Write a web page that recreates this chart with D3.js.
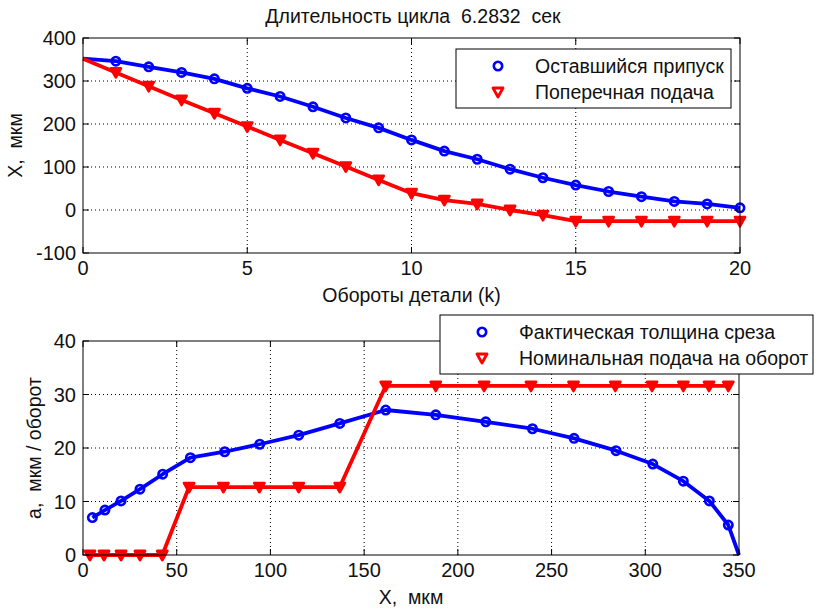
<!DOCTYPE html>
<meta charset="utf-8">
<script src="https://cdn.jsdelivr.net/npm/d3@7"></script>
<style>
body { margin: 0; background: #fff; }
text { font-family: "Liberation Sans", Arial, sans-serif; font-size: 19.5px; fill: #111; white-space: pre; }
text.ticklabel { font-size: 20px; }
.grid line { stroke: #000; stroke-width: 1; stroke-dasharray: 1,3; }
.frame { fill: none; stroke: #000; stroke-width: 1; }
.tick { stroke: #000; stroke-width: 1; }
</style>
<body>
<script>

// top plot: remaining allowance and cross feed vs revolutions
var revs = [0,1,2,3,4,5,6,7,8,9,10,11,12,13,14,15,16,17,18,19,20];
var allowance = [352,346,333,320,305,283,264,240,214,191,163,137,118,95,75,58,43,31,20,14,5];
var crossFeed = [352,320,288,256,225,194,163,132,101,70,39,23,14,0,-12,-26,-26,-26,-26,-26,-26];
var topXTicks = [0,5,10,15,20];
var topYTicks = [-100,0,100,200,300,400];

// bottom plot: chip thickness and nominal feed per revolution vs X
var chipX = [5,11.7,20.3,30.4,42.5,57.3,75.6,94.3,115.1,137,161.5,188.2,214.9,239.8,262,284.4,304,320.3,334.2,344.3,350];
var chipThickness = [7.0,8.4,10.1,12.3,15.1,18.2,19.3,20.7,22.4,24.6,27.1,26.2,24.9,23.6,21.8,19.5,17.0,13.8,10.1,5.6,0];
var feedX = [3.7,11.2,20.3,30.4,42.3,56.6,74.9,94.1,115.1,137,161.5,188.2,214,239,261.7,284,303.6,320.3,334,344.3];
var feedPerRev = [0,0,0,0,0,12.7,12.7,12.7,12.7,12.7,31.6,31.6,31.6,31.6,31.6,31.6,31.6,31.6,31.6,31.6];
var botXTicks = [0,50,100,150,200,250,300,350];
var botYTicks = [0,10,20,30,40];

var width = 818, height = 613;

var svg = d3.select("body").append("svg")
    .attr("width", width)
    .attr("height", height);

svg.append("rect").attr("width", width).attr("height", height).attr("fill", "#fff");

var tri = "M-5,-4L5,-4L0,5Z";

function marker(sel, s, filled) {
  if (s.marker == "o") {
    return sel.append("circle").attr("r", 4.2)
        .attr("fill", "none").attr("stroke", s.color).attr("stroke-width", 2.6);
  }
  return sel.append("path").attr("d", tri)
      .attr("fill", filled ? s.color : "none").attr("stroke", s.color).attr("stroke-width", 2.8)
      .attr("stroke-linejoin", "round");
}

function panel(cfg) {
  var x = cfg.x, y = cfg.y;
  var x0 = x.range()[0], x1 = x.range()[1], y0 = y.range()[0], y1 = y.range()[1];
  var g = svg.append("g");

  // dotted grid
  var grid = g.append("g").attr("class", "grid");
  grid.selectAll(".gx").data(cfg.xTicks.slice(1, -1)).enter().append("line")
      .attr("x1", function(d) { return x(d); }).attr("x2", function(d) { return x(d); })
      .attr("y1", y0).attr("y2", y1);
  grid.selectAll(".gy").data(cfg.yTicks.slice(1, -1)).enter().append("line")
      .attr("y1", function(d) { return y(d); }).attr("y2", function(d) { return y(d); })
      .attr("x1", x0).attr("x2", x1);

  // series
  cfg.series.forEach(function(s) {
    var pts = s.xs.map(function(v, i) { return [v, s.ys[i]]; });
    g.append("path")
        .attr("d", d3.line().x(function(d) { return x(d[0]); }).y(function(d) { return y(d[1]); })(pts))
        .attr("fill", "none").attr("stroke", s.color).attr("stroke-width", 3.8)
        .attr("stroke-linejoin", "round");
    var mpts = pts.filter(function(d, i) { return s.skip.indexOf(i) < 0; });
    var m = g.selectAll(null).data(mpts).enter().append("g")
        .attr("transform", function(d) { return "translate(" + x(d[0]) + "," + y(d[1]) + ")"; });
    marker(m, s, true);
  });

  // frame and inward ticks on all sides
  g.append("rect").attr("class", "frame")
      .attr("x", x0).attr("y", y1).attr("width", x1 - x0).attr("height", y0 - y1);
  var tl = 6;
  cfg.xTicks.forEach(function(d) {
    g.append("line").attr("class", "tick").attr("x1", x(d)).attr("x2", x(d)).attr("y1", y0).attr("y2", y0 - tl);
    g.append("line").attr("class", "tick").attr("x1", x(d)).attr("x2", x(d)).attr("y1", y1).attr("y2", y1 + tl);
    g.append("text").attr("class", "ticklabel").attr("x", x(d)).attr("y", y0 + 22).attr("text-anchor", "middle").text(d);
  });
  cfg.yTicks.forEach(function(d) {
    g.append("line").attr("class", "tick").attr("y1", y(d)).attr("y2", y(d)).attr("x1", x0).attr("x2", x0 + tl);
    g.append("line").attr("class", "tick").attr("y1", y(d)).attr("y2", y(d)).attr("x1", x1).attr("x2", x1 - tl);
    g.append("text").attr("class", "ticklabel").attr("x", x0 - 7).attr("y", y(d)).attr("dy", "0.36em").attr("text-anchor", "end").text(d);
  });

  g.append("text").attr("x", (x0 + x1) / 2).attr("y", cfg.xLabelY).attr("text-anchor", "middle").text(cfg.xLabel);
  g.append("text").attr("transform", "translate(" + cfg.yLabelX + "," + ((y0 + y1) / 2) + ") rotate(-90)")
      .attr("text-anchor", "middle").text(cfg.yLabel);

  // legend
  var L = cfg.legend;
  var lg = svg.append("g");
  lg.append("rect").attr("x", L.x).attr("y", L.y).attr("width", L.w).attr("height", L.h)
      .attr("fill", "#fff").attr("stroke", "#000").attr("stroke-width", 1);
  cfg.series.forEach(function(s, i) {
    var cy = L.y + 17 + i * 26;
    marker(lg.append("g").attr("transform", "translate(" + (L.x + 42) + "," + cy + ")"), s, false);
    lg.append("text").attr("x", L.x + L.tx).attr("y", cy).attr("dy", "0.36em").text(s.name);
  });
}

svg.append("text").attr("x", 413).attr("y", 23).attr("text-anchor", "middle")
    .text("Длительность цикла  6.2832  сек");

panel({
  x: d3.scaleLinear().domain([0, 20]).range([83, 740]),
  y: d3.scaleLinear().domain([-100, 400]).range([253, 38]),
  xTicks: topXTicks, yTicks: topYTicks,
  xLabel: "Обороты детали (k)", xLabelY: 302,
  yLabel: "X,  мкм", yLabelX: 22,
  series: [
    {name: "Оставшийся припуск", xs: revs, ys: allowance, color: "#0000ff", marker: "o", skip: [0]},
    {name: "Поперечная подача", xs: revs, ys: crossFeed, color: "#ff0000", marker: "v", skip: [0]}
  ],
  legend: {x: 456, y: 49, w: 275, h: 59, tx: 79}
});

panel({
  x: d3.scaleLinear().domain([0, 350]).range([83, 739]),
  y: d3.scaleLinear().domain([0, 40]).range([555, 341]),
  xTicks: botXTicks, yTicks: botYTicks,
  xLabel: "X,  мкм", xLabelY: 604,
  yLabel: "a,  мкм / оборот", yLabelX: 41,
  series: [
    {name: "Фактическая толщина среза", xs: chipX, ys: chipThickness, color: "#0000ff", marker: "o", skip: [chipX.length - 1]},
    {name: "Номинальная подача на оборот", xs: feedX, ys: feedPerRev, color: "#ff0000", marker: "v", skip: []}
  ],
  legend: {x: 440, y: 315, w: 373, h: 59, tx: 79}
});

</script>
</body>
</html>
